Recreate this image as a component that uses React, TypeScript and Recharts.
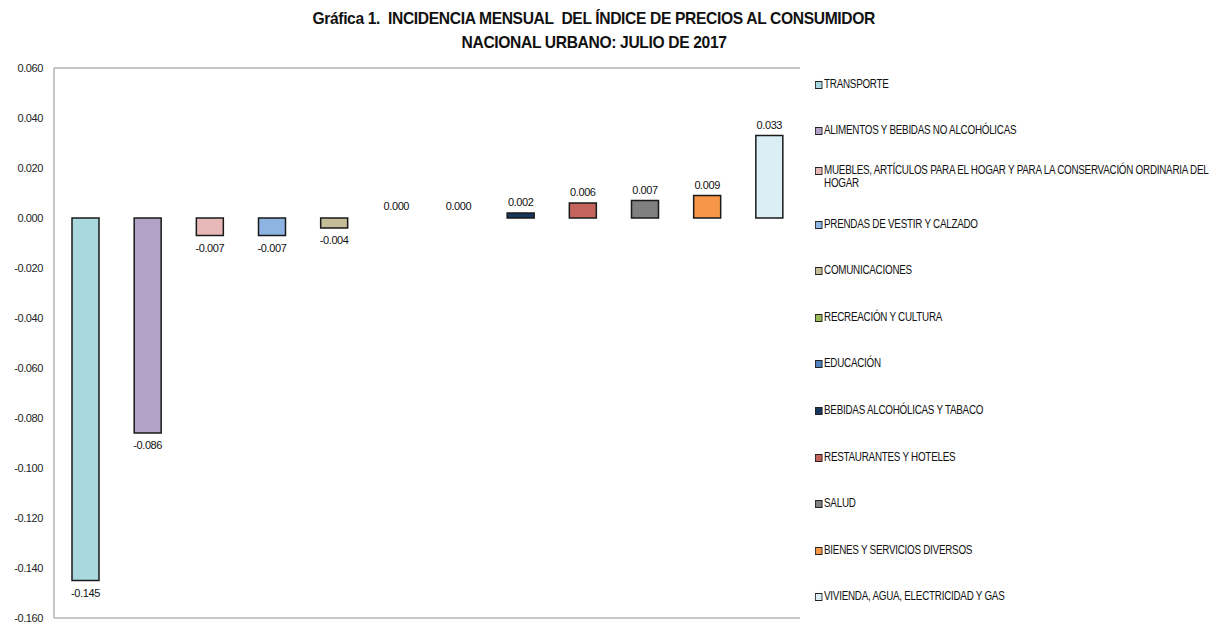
import { BarChart, Bar, XAxis, YAxis, CartesianGrid, Cell, LabelList } from 'recharts';

const categories = [
    'TRANSPORTE',
    'ALIMENTOS Y BEBIDAS NO ALCOHÓLICAS',
    'MUEBLES, ARTÍCULOS PARA EL HOGAR Y PARA LA CONSERVACIÓN ORDINARIA DEL HOGAR',
    'PRENDAS DE VESTIR Y CALZADO',
    'COMUNICACIONES',
    'RECREACIÓN Y CULTURA',
    'EDUCACIÓN',
    'BEBIDAS ALCOHÓLICAS Y TABACO',
    'RESTAURANTES Y HOTELES',
    'SALUD',
    'BIENES Y SERVICIOS DIVERSOS',
    'VIVIENDA, AGUA, ELECTRICIDAD Y GAS',
];

const incidencia = [-0.145, -0.086, -0.007, -0.007, -0.004, 0.0, 0.0, 0.002, 0.006, 0.007, 0.009, 0.033];

const colors = ['#a9d8df', '#b3a2c7', '#e6b9b8', '#8db4e2', '#c4bd97', '#9bbb59', '#4f81bd', '#17375e', '#c4645c', '#808080', '#f79646', '#dbeef4'];

const yTicks = [0.06, 0.04, 0.02, 0, -0.02, -0.04, -0.06, -0.08, -0.1, -0.12, -0.14, -0.16];

const data = categories.map((name, i) => ({ name, value: incidencia[i] }));

const FONT = "'Liberation Sans Narrow', 'Arial Narrow', 'Liberation Sans', sans-serif";

const ValueLabel = (props: any) => {
    const { x, y, width, height, value } = props;
    const top = Math.min(y, y + height);
    const bottom = Math.max(y, y + height);
    const ty = value < 0 ? bottom + 16 : top - 7;
    return (
        <text x={x + width / 2} y={ty} textAnchor="middle" fontSize={11} fontFamily={FONT} fill="#111" letterSpacing={-0.4}>
            {value.toFixed(3)}
        </text>
    );
};

export default function App() {
    return (
        <div style={{ position: 'absolute', left: 0, top: 0, width: 1221, height: 625, overflow: 'hidden', fontFamily: FONT, background: '#fff' }}>
            <style>{'body { margin: 0; }'}</style>
            <div style={{ position: 'absolute', left: 8, top: 7, width: 1172, textAlign: 'center', fontWeight: 'bold', fontSize: 17, lineHeight: '24px', letterSpacing: -0.4, color: '#111' }}>
                <div><span style={{ display: 'inline-block', transform: 'scaleX(0.92)' }}>Gráfica 1.&nbsp; INCIDENCIA MENSUAL &nbsp;DEL ÍNDICE DE PRECIOS AL CONSUMIDOR</span></div>
                <div><span style={{ display: 'inline-block', transform: 'scaleX(0.92)' }}>NACIONAL URBANO: JULIO DE 2017</span></div>
            </div>
            <BarChart
                width={1221}
                height={625}
                data={data}
                margin={{ top: 68, right: 421, left: 8, bottom: 7 }}
                barCategoryGap={0}
            >
                <CartesianGrid vertical={false} stroke="#b5b5b5" strokeWidth={1.5} />
                <XAxis dataKey="name" hide />
                <YAxis
                    yAxisId="left"
                    width={46}
                    domain={[-0.16, 0.06]}
                    ticks={yTicks}
                    tickFormatter={(v: number) => v.toFixed(3)}
                    tickLine={false}
                    tickSize={0}
                    tickMargin={11}
                    axisLine={{ stroke: '#b5b5b5', strokeWidth: 1.5 }}
                    tick={{ fontSize: 11, fill: '#222', fontFamily: FONT, letterSpacing: -0.4 }}
                    interval={0}
                />
                <YAxis
                    yAxisId="right"
                    orientation="right"
                    width={0}
                    domain={[-0.16, 0.06]}
                    tick={false}
                    tickLine={false}
                    axisLine={{ stroke: '#d0d0d0', strokeWidth: 1 }}
                />
                <Bar yAxisId="left" dataKey="value" barSize={27} minPointSize={1} stroke="#1a1a1a" strokeWidth={1.5} isAnimationActive={false}>
                    {data.map((d, i) => (
                        <Cell key={d.name} fill={d.value === 0 ? 'none' : colors[i]} stroke={d.value === 0 ? 'none' : '#1a1a1a'} />
                    ))}
                    <LabelList dataKey="value" content={ValueLabel} />
                </Bar>
            </BarChart>
            <div style={{ position: 'absolute', left: 815, top: 61, width: 492, transform: 'scaleX(0.82)', transformOrigin: 'left top' }}>
                {categories.map((name, i) => (
                    <div key={name} style={{ height: 46.6, display: 'flex', alignItems: 'center' }}>
                        <div style={{ display: 'flex', alignItems: 'flex-start', fontSize: 12, lineHeight: '13px', letterSpacing: -0.3, color: '#111' }}>
                            <span style={{ flex: '0 0 auto', width: 7, height: 6, border: '1.5px solid #222', background: colors[i], marginTop: 3, marginRight: 2 }} />
                            <span>{name}</span>
                        </div>
                    </div>
                ))}
            </div>
        </div>
    );
}
